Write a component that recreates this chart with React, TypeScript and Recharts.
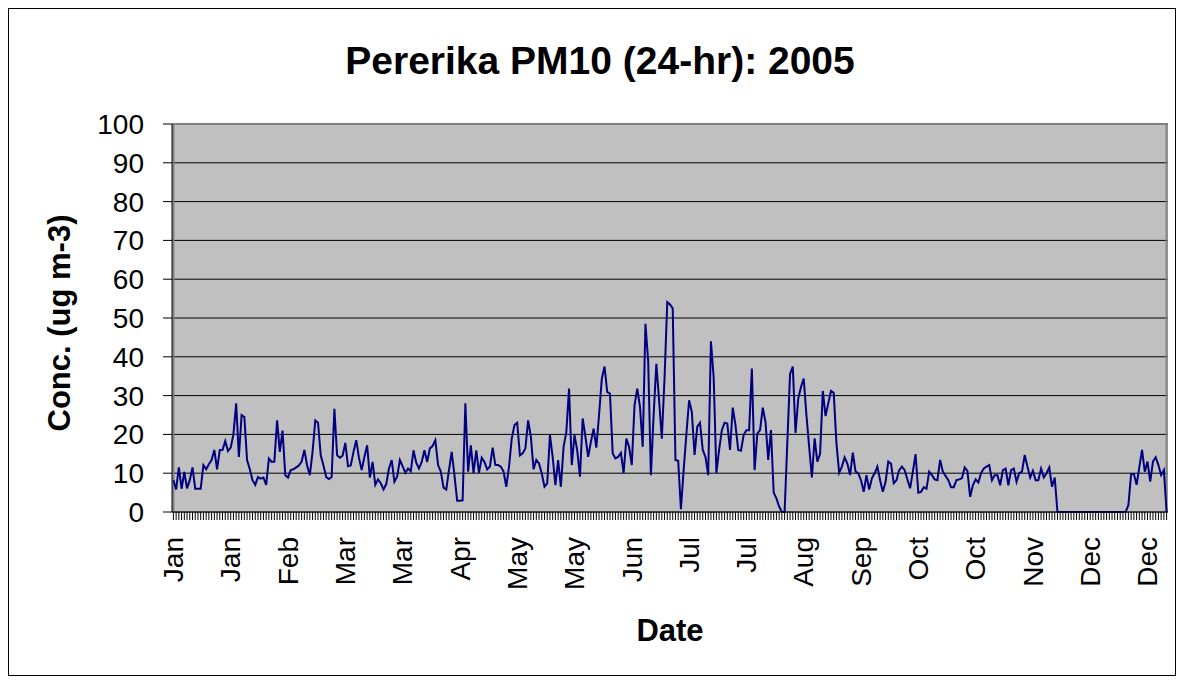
import React from "react";
import {
  LineChart,
  Line,
  XAxis,
  YAxis,
  CartesianGrid,
  ReferenceArea,
} from "recharts";

// daily PM10, Pererika 2005 (ug m-3)
const pm10Days0to59 = [
  8.2, 5.8, 11.5, 6, 10.3, 6.1, 8.2, 11.5, 6, 6,
  6, 12.1, 11, 12.3, 13.4, 16, 11, 16, 16, 18.3,
  15.7, 16.6, 20, 28, 14.2, 25, 24.5, 13.4, 11, 8.2,
  7, 9, 8.6, 8.9, 7, 13.8, 12.9, 13, 23.6, 15.5,
  21, 9.5, 8.9, 10.8, 11, 11.5, 12, 13, 16, 12,
  9.5, 15.5, 23.6, 23, 14.6, 12, 9, 8.5, 9, 26.6,
];
const pm10Days60to119 = [
  14.6, 14, 14.5, 17.8, 11.8, 12, 15.5, 18.5, 14, 10.8,
  14.2, 17.2, 8.9, 12.9, 7, 8.4, 7.4, 5.8, 7.2, 11.2,
  13.4, 7.8, 9.1, 13.4, 11.8, 10.1, 11.2, 10.5, 15.9, 12.7,
  11.2, 12.9, 15.9, 12.9, 16.4, 17, 18.5, 12.1, 10.4, 6.3,
  5.8, 10.8, 15.5, 9.5, 2.9, 2.9, 3, 28, 10.4, 17.2,
  10.1, 15.9, 10.1, 14, 12.9, 11, 11.7, 16.6, 12.1, 12.1,
];
const pm10Days120to179 = [
  11.7, 10.4, 6.5, 11.7, 18.9, 22.4, 23, 14.6, 15.1, 16.4,
  23.6, 19.4, 11, 13.4, 12.5, 9.9, 6.5, 7.4, 19.8, 14.2,
  6.9, 13.4, 6.5, 16.8, 20.6, 31.8, 12.1, 19.8, 15.9, 9.1,
  24.1, 19.4, 14.2, 18, 21.5, 16.6, 25, 34.3, 37.5, 30.9,
  30.5, 15.1, 13.8, 14.2, 15.2, 10.1, 18.9, 16.8, 12.1, 27.5,
  31.8, 27.1, 16.8, 48.5, 39, 9.5, 25, 38.2, 28.8, 18.9,
];
const pm10Days180to239 = [
  34.5, 54.1, 53.5, 52.5, 13.4, 13.2, 0.7, 10.8, 20, 28.8,
  25.8, 14.7, 22, 23, 16, 14.2, 9.5, 44, 34.8, 10.1,
  16, 21.1, 23, 22.8, 16, 26.9, 22.4, 16, 15.8, 19.8,
  21.1, 21.1, 37, 10.8, 20.2, 21.1, 26.9, 23.2, 13.4, 21.1,
  5, 3.5, 1.4, 0, 0, 18, 35.6, 37.5, 20.4, 29.2,
  32.2, 34.4, 25, 16.8, 8.9, 19, 13, 15, 31.2, 24.7,
];
const pm10Days240to299 = [
  28, 31.2, 30.7, 17.7, 10.1, 11.7, 14.1, 12.5, 9.5, 15.3,
  10.4, 10, 8.2, 5.2, 9.5, 5.8, 8.7, 10, 11.7, 8.2,
  5.2, 7.8, 13, 12.5, 7.4, 8.2, 10.8, 11.7, 10.8, 8.4,
  6.1, 10.4, 14.9, 5, 5.2, 6.4, 6, 10.4, 9.5, 8.4,
  8.2, 13.4, 10.4, 9.3, 8.2, 6.4, 6.4, 8.2, 8.4, 8.7,
  11.5, 10.6, 3.9, 6.9, 8.4, 7.6, 10, 11.2, 11.7, 12.1,
];
const pm10Days300to364 = [
  8.2, 9.5, 9.5, 6.9, 10.8, 11.2, 6.9, 10.8, 11.2, 7.8,
  10, 10.4, 14.7, 11.7, 8.9, 10.6, 8.2, 8.2, 11.2, 8.9,
  10, 11.5, 6.5, 8.9, 0, 0, 0, 0, 0, 0,
  0, 0, 0, 0, 0, 0, 0, 0, 0, 0,
  0, 0, 0, 0, 0, 0, 0, 0, 0, 0,
  1.8, 9.8, 9.8, 7, 11.5, 16, 10.4, 13, 7.8, 13,
  14.1, 12.1, 9.5, 10.8, 0,
];

const monthNames = ["Jan", "Feb", "Mar", "Apr", "May", "Jun", "Jul", "Aug", "Sep", "Oct", "Nov", "Dec"];
const yTicks = [0, 10, 20, 30, 40, 50, 60, 70, 80, 90, 100];
const LABEL_EVERY = 21; // excel shows every 21st category label

const pm10 = [
  ...pm10Days0to59,
  ...pm10Days60to119,
  ...pm10Days120to179,
  ...pm10Days180to239,
  ...pm10Days240to299,
  ...pm10Days300to364,
];

const start = Date.UTC(2005, 0, 1);
const data = pm10.map((v, i) => ({
  date: new Date(start + i * 86400000).toISOString().slice(0, 10),
  pm10: v,
}));

const FONT = '"Liberation Sans", Arial, sans-serif';

const DateTick = (props: any) => {
  const { x, y, payload, index } = props;
  if (index % LABEL_EVERY !== 0) return <g />;
  const month = monthNames[new Date(payload.value + "T00:00:00Z").getUTCMonth()];
  return (
    <text
      x={x}
      y={y}
      transform={`rotate(-90, ${x}, ${y})`}
      textAnchor="end"
      dy="0.35em"
      fontSize={28}
      fill="#000"
    >
      {month}
    </text>
  );
};

const YTitle = (props: any) => {
  const vb = props.viewBox;
  const cx = vb.x + 61;
  const cy = vb.y + vb.height / 2 + 5;
  return (
    <text
      x={cx}
      y={cy}
      transform={`rotate(-90, ${cx}, ${cy})`}
      textAnchor="middle"
      fontSize={31}
      fontWeight="bold"
      fill="#000"
    >
      Conc. (ug m-3)
    </text>
  );
};

const XTitle = (props: any) => {
  const vb = props.viewBox;
  return (
    <text
      x={vb.x + vb.width / 2}
      y={vb.y + 129}
      textAnchor="middle"
      fontSize={31}
      fontWeight="bold"
      fill="#000"
    >
      Date
    </text>
  );
};

export default function App() {
  return (
    <div
      style={{
        position: "relative",
        width: 1168,
        height: 668,
        border: "1px solid #000",
        boxSizing: "border-box",
        fontFamily: FONT,
        background: "#fff",
      }}
    >
      <div
        style={{
          position: "absolute",
          left: 141,
          top: 32,
          width: 900,
          textAlign: "center",
          fontSize: 39,
          lineHeight: "39px",
          fontWeight: "bold",
          color: "#000",
        }}
      >
        Pererika PM10 (24-hr): 2005
      </div>
      <LineChart
        width={1166}
        height={666}
        data={data}
        margin={{ top: 115, right: 0, bottom: 0, left: 0 }}
      >
        <CartesianGrid vertical={false} stroke="#000" fill="#C0C0C0" fillOpacity={1} />
        <ReferenceArea
          y1={0}
          y2={100}
          fill="none"
          stroke="#808080"
          strokeWidth={2}
          ifOverflow="visible"
        />
        <XAxis
          dataKey="date"
          interval={0}
          height={163}
          tickSize={8}
          tickMargin={17}
          padding={{ left: 1.4, right: 1.4 }}
          axisLine={{ stroke: "#000" }}
          tickLine={{ stroke: "#000" }}
          tick={<DateTick />}
          label={{ content: XTitle }}
        />
        <YAxis
          domain={[0, 100]}
          ticks={yTicks}
          interval={0}
          width={163}
          tickSize={9}
          tickMargin={19}
          axisLine={{ stroke: "#000" }}
          tickLine={{ stroke: "#000" }}
          tick={{ fontSize: 28, fill: "#000" }}
          label={{ content: YTitle }}
        />
        <YAxis
          yAxisId="right"
          orientation="right"
          domain={[0, 100]}
          width={7}
          tick={false}
          tickLine={false}
          axisLine={false}
        />
        <Line
          type="linear"
          dataKey="pm10"
          stroke="#000080"
          strokeWidth={2}
          dot={false}
          activeDot={false}
          isAnimationActive={false}
        />
      </LineChart>
    </div>
  );
}
